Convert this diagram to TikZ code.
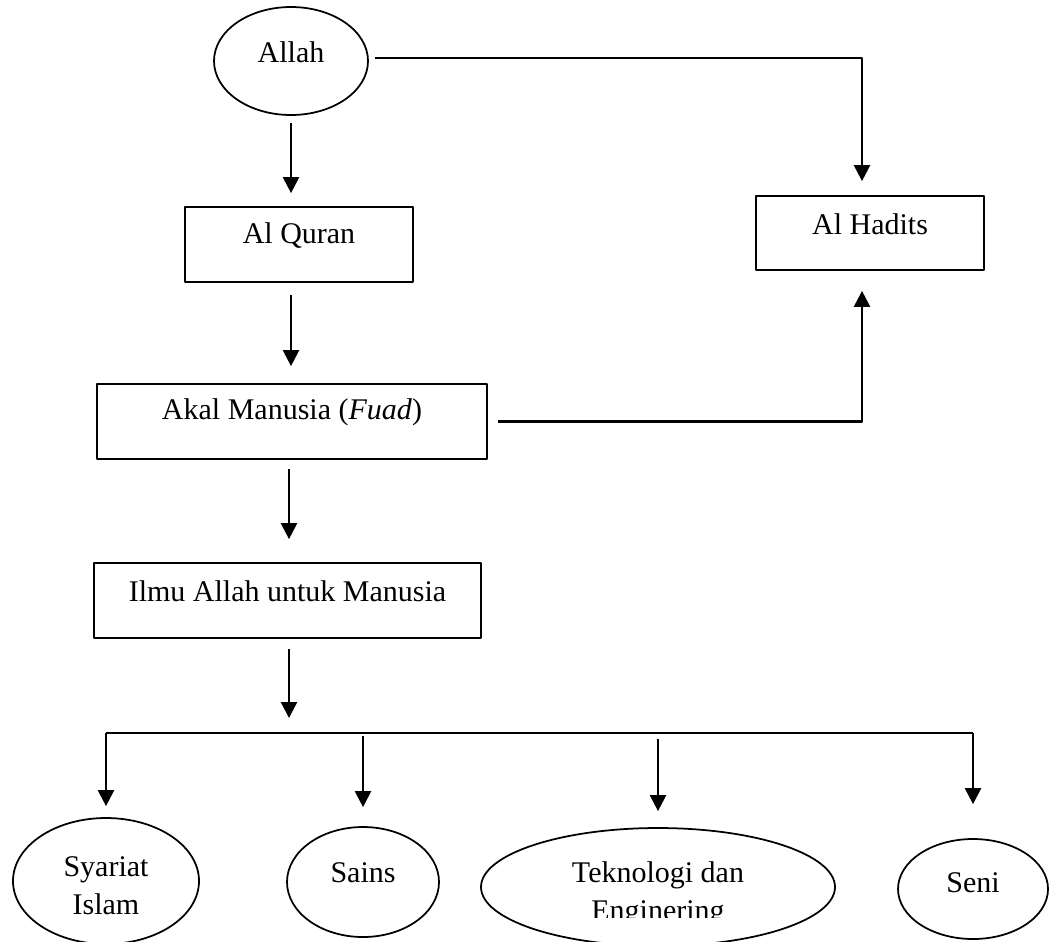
\documentclass[tikz,border=0pt]{standalone}
\usepackage{fontspec}
\setmainfont{Liberation Serif}
\usetikzlibrary{shapes.geometric,arrows.meta}
\begin{document}
\begin{tikzpicture}[x=0.4pt, y=-0.4pt, font=\fontsize{12}{15.2}\selectfont, line join=round, >={Triangle[width=6.4pt,length=6.4pt]},
    kotak/.style={draw, line width=0.7pt, inner sep=0pt, minimum height=30pt},
    oval/.style={draw, ellipse, line width=0.7pt, inner sep=0pt},
    teks/.style={align=center, inner sep=0pt},
    panah/.style={->, line width=0.9pt}]
    \useasboundingbox (0,0) rectangle (1050,941);
    \node[oval, minimum width=61.6pt, minimum height=43.2pt, label={[teks, yshift=3.6pt]center:Allah}] (allah) at (291,61) {};
    \node[kotak, minimum width=91.2pt, label={[teks, yshift=3.6pt]center:Al Quran}] (quran) at (299,244.5) {};
    \node[kotak, minimum width=91.2pt, minimum height=29.6pt, label={[teks, yshift=3.6pt]center:Al Hadits}] (hadits) at (870,233) {};
    \node[kotak, minimum width=156pt, label={[teks, yshift=3.6pt]center:Akal Manusia (\textit{Fuad})}] (akal) at (292,421.5) {};
    \node[kotak, minimum width=154.8pt, label={[teks, yshift=3.6pt]center:Ilmu Allah untuk Manusia}] (ilmu) at (287.5,600.5) {};
    \node[oval, minimum width=74.4pt, minimum height=50.4pt, label={[teks, yshift=-2pt]center:Syariat\\Islam}] (syariat) at (106,881) {};
    \node[oval, minimum width=60.8pt, minimum height=44pt, label={[teks, yshift=3.6pt]center:Sains}] (sains) at (363,882) {};
    \node[oval, minimum width=141.6pt, minimum height=47.2pt] (tek) at (658,887) {};
    \node[oval, minimum width=60pt, minimum height=40pt, label={[teks, yshift=2.4pt]center:Seni}] (seni) at (973,889) {};
    \begin{scope}
        \clip (450,820) rectangle (870,917);
        \node[teks] (tekteks) at (658,894) {Teknologi dan\\Enginering};
    \end{scope}
    \coordinate (kanan) at (862,0);
    \coordinate (cabang) at (289,733);
    \draw[panah, shorten <=2.8pt, shorten >=5.2pt] (allah.south) -- (allah.south |- quran.north);
    \draw[panah, shorten <=2.4pt, shorten >=5.6pt] ([yshift=1.2pt]allah.east) -- ([yshift=1.2pt]allah.east -| kanan) -- (kanan |- hadits.north);
    \draw[panah, shorten <=4.8pt, shorten >=6.8pt] (allah |- quran.south) -- (allah |- akal.north);
    \draw[panah, shorten <=4pt, shorten >=8pt] (akal.east) -- (akal.east -| kanan) -- (kanan |- hadits.south);
    \draw[panah, shorten <=3.6pt, shorten >=9.2pt] (cabang |- akal.south) -- (cabang |- ilmu.north);
    \draw[panah, shorten <=4pt, shorten >=6pt] (cabang |- ilmu.south) -- (cabang);
    \draw[line width=0.9pt] (syariat |- cabang) -- (seni |- cabang);
    \foreach \n/\a/\s in {syariat/0pt/4.4pt, sains/1.2pt/7.6pt, tek/2.4pt/6.4pt, seni/0pt/13.6pt}
        \draw[panah, shorten <=\a, shorten >=\s] (\n |- cabang) -- (\n.north);
\end{tikzpicture}
\end{document}
